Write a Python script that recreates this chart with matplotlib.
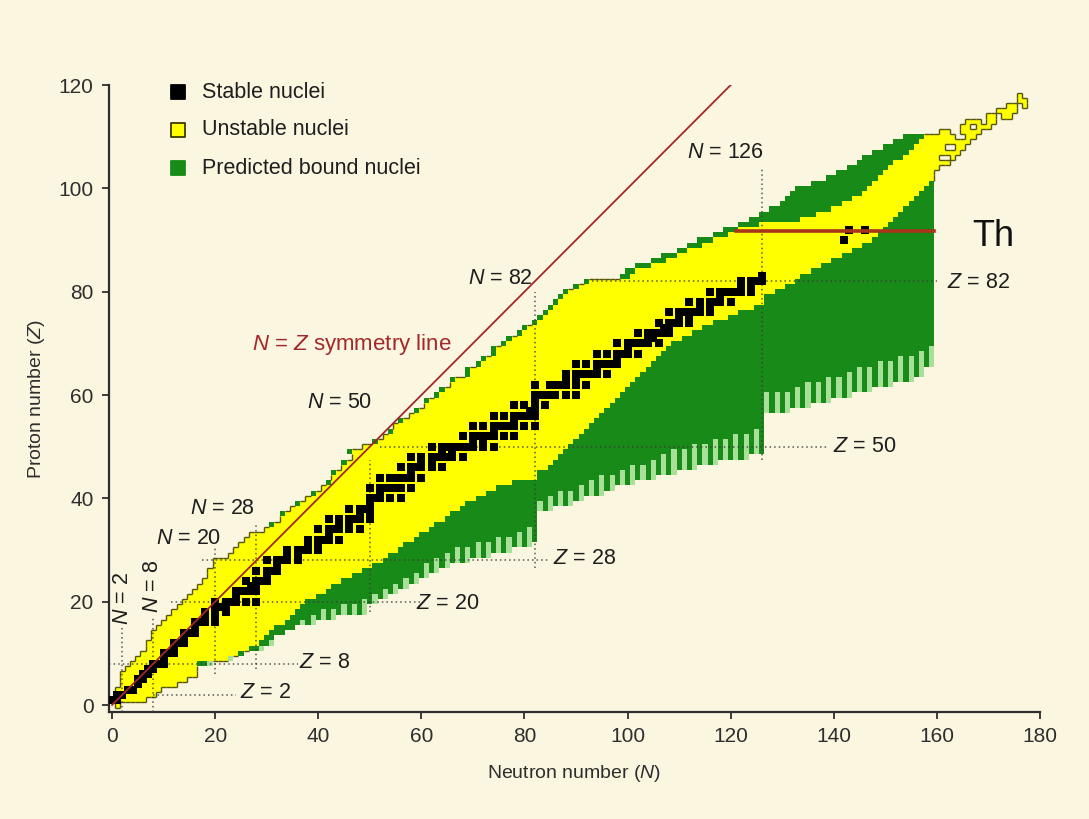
import numpy as np
import matplotlib.pyplot as plt
from matplotlib.colors import ListedColormap
from matplotlib.collections import LineCollection

plt.rcParams['font.family'] = ['Liberation Sans', 'DejaVu Sans']
plt.rcParams['mathtext.fontset'] = 'custom'
plt.rcParams['mathtext.rm'] = 'Liberation Sans'
plt.rcParams['mathtext.it'] = 'Liberation Sans:italic'

BG = '#fbf6e0'

# ---- data ----
z_rows = list(range(0, 119))

# known (unstable) nuclei: lowest / highest N for each Z
known_n_lo = [1, 0, 1, 1, 2, 2, 2, 3, 4, 5,
              6, 7, 7, 8, 8, 9, 10, 11, 12, 13,
              14, 15, 16, 17, 18, 19, 19, 20, 20, 23,
              24, 25, 26, 27, 30, 32, 33, 34, 35, 37,
              38, 40, 41, 43, 43, 44, 45, 46, 47, 47,
              49, 52, 53, 55, 55, 57, 58, 60, 61, 62,
              64, 65, 66, 67, 70, 70, 72, 73, 75, 75,
              77, 78, 80, 81, 83, 84, 85, 86, 87, 88,
              89, 91, 93, 101, 102, 105, 108, 110, 112, 115,
              117, 120, 122, 126, 134, 137, 140, 142, 144, 146,
              147, 148, 149, 150, 151, 152, 154, 155, 156, 157,
              158, 161, 165, 166, 170, 172, 174, 176, 176]
known_n_hi = [1, 6, 8, 9, 12, 14, 16, 16, 16, 22,
              24, 26, 28, 29, 30, 31, 33, 34, 35, 36,
              37, 39, 41, 42, 44, 46, 48, 50, 52, 53,
              55, 56, 58, 59, 61, 62, 64, 65, 67, 68,
              70, 72, 74, 77, 82, 82, 84, 85, 86, 87,
              88, 89, 90, 91, 92, 93, 94, 95, 96, 97,
              98, 99, 100, 101, 102, 103, 104, 105, 106, 107,
              108, 110, 112, 114, 116, 119, 121, 124, 126, 126,
              128, 130, 132, 133, 135, 137, 139, 141, 143, 145,
              147, 148, 149, 150, 151, 152, 153, 154, 155, 156,
              157, 158, 159, 159, 161, 162, 163, 164, 165, 166,
              167, 168, 170, 171, 174, 175, 177, 177, 176]
# gaps in the superheavy corner (Z, N) that are not observed
superheavy_gaps = [(104, 161), (106, 161), (106, 162), (108, 163), (108, 162),
                   (110, 164), (110, 165), (111, 163), (111, 164), (112, 167),
                   (113, 169), (114, 172), (116, 176)]
# predicted bound nuclei: lowest N for each Z (proton-rich side)
bound_n_lo = [1, 0, 1, 1, 2, 2, 2, 3, 4, 5,
              6, 7, 7, 8, 8, 9, 10, 11, 12, 13,
              14, 15, 16, 17, 18, 19, 19, 20, 20, 23,
              24, 25, 26, 27, 30, 31, 33, 33, 35, 36,
              38, 39, 41, 42, 43, 43, 45, 45, 47, 46,
              49, 51, 53, 54, 55, 56, 58, 59, 61, 61,
              63, 64, 66, 66, 69, 69, 71, 72, 74, 74,
              76, 77, 79, 80, 82, 83, 84, 85, 86, 87,
              88, 90, 92, 99, 100, 102, 105, 107, 110, 112,
              114, 117, 119, 122, 124, 126, 128, 130, 131, 132,
              133, 136, 139, 141, 143, 145, 146, 148, 150, 152,
              154, 161, 165, 166, 170, 172, 174, 176, 176]
BOUND_N_MAX = 159

# neutron drip side: comb of even-N teeth and odd-N gaps
tooth_n = list(range(16, 160, 2))
tooth_z = [8, 8, 9, 9, 10, 11, 11, 12, 14, 15,
           16, 16, 17, 17, 18, 18, 18, 20, 21, 22,
           23, 24, 25, 26, 27, 28, 28, 29, 29, 30,
           30, 31, 31, 32, 38, 39, 39, 40, 41, 41,
           42, 43, 43, 44, 44, 45, 45, 46, 46, 47,
           47, 48, 48, 48, 49, 49, 57, 57, 58, 58,
           59, 59, 60, 60, 61, 61, 62, 62, 63, 63,
           64, 66]
gap_z = [8, 9, 9, 10, 10, 11, 12, 13, 14, 15,
         17, 18, 19, 19, 20, 20, 21, 22, 23, 24,
         25, 26, 28, 29, 30, 31, 31, 32, 32, 33,
         33, 34, 35, 40, 41, 42, 42, 43, 44, 45,
         45, 46, 47, 47, 48, 49, 50, 50, 51, 51,
         52, 52, 53, 53, 54, 61, 61, 61, 62, 63,
         63, 64, 64, 65, 66, 66, 67, 67, 68, 68,
         69, 70]
gap_pale_z = [8, 8, 9, 9, 10, 11, 11, 12, 14, 15,
              16, 16, 17, 17, 18, 18, 18, 20, 21, 22,
              23, 24, 25, 26, 27, 28, 28, 29, 29, 30,
              30, 31, 31, 38, 38, 39, 39, 40, 41, 41,
              42, 43, 43, 44, 44, 45, 45, 46, 46, 47,
              47, 48, 48, 48, 49, 57, 57, 57, 58, 58,
              59, 59, 60, 60, 61, 61, 62, 62, 63, 63,
              64, 66]

# stable nuclei: N values for each Z
stable_z = list(range(1, 84)) + [90, 92]
stable_n = [
    [0, 1], [1, 2], [3, 4], [5], [5, 6], [6, 7], [7, 8], [8, 9, 10], [10], [10, 11, 12],
    [12], [12, 13, 14], [14], [14, 15, 16], [16], [16, 17, 18, 20], [18, 20], [18, 20, 22],
    [20, 21, 22], [20, 22, 23, 24, 26, 28],
    [24], [24, 25, 26, 27, 28], [27, 28], [26, 28, 29, 30], [30], [28, 30, 31, 32], [32],
    [30, 32, 33, 34, 36], [34, 36], [34, 36, 37, 38, 40],
    [38, 40], [38, 40, 41, 42, 44], [42], [40, 42, 43, 44, 46, 48], [44, 46],
    [42, 44, 46, 47, 48, 50], [48, 50], [46, 48, 49, 50], [50], [50, 51, 52, 54, 56],
    [52], [50, 52, 53, 54, 55, 56, 58], [], [52, 54, 55, 56, 57, 58, 60], [58],
    [56, 58, 59, 60, 62, 64], [60, 62], [58, 60, 62, 63, 64, 65, 66, 68], [64, 66],
    [62, 64, 65, 66, 67, 68, 69, 70, 72, 74],
    [70, 72], [68, 70, 71, 72, 73, 74, 76, 78], [74], [70, 72, 74, 75, 76, 77, 78, 80, 82],
    [78], [74, 76, 78, 79, 80, 81, 82], [81, 82], [78, 80, 82, 84], [82],
    [82, 83, 84, 85, 86, 88, 90],
    [], [82, 85, 86, 87, 88, 90, 92], [88, 90], [88, 90, 91, 92, 93, 94, 96], [94],
    [90, 92, 94, 95, 96, 97, 98], [98], [94, 96, 98, 99, 100, 102], [100],
    [98, 100, 101, 102, 103, 104, 106],
    [104, 105], [102, 104, 105, 106, 107, 108], [107, 108], [106, 108, 109, 110, 112],
    [110, 112], [108, 110, 111, 112, 113, 114, 116], [114, 116],
    [112, 114, 116, 117, 118, 120], [118], [116, 118, 119, 120, 121, 122, 124],
    [122, 124], [122, 124, 125, 126], [126],
    [142], [143, 146],
]

# magic-number guide lines
magic_n = [2, 8, 20, 28, 50, 82, 126]
magic_n_zrange = [(-1.4, 15), (-1.4, 17), (6, 30.5), (7, 35), (18, 47.5), (26.5, 80), (47.5, 104)]
magic_z = [2, 8, 20, 28, 50, 82]
magic_z_nrange = [(8, 24), (-0.6, 36), (11.5, 60), (17.5, 85), (52, 139), (93, 160)]

# ---- build the cell map ----
nz, nn = 121, 181
state = np.zeros((nz, nn), dtype=int)
for z in z_rows:
    state[z, known_n_lo[z]:known_n_hi[z] + 1] = 1
for z, n in superheavy_gaps:
    state[z, n] = 0

floor_dark = np.full(nn, 999)
floor_pale = np.full(nn, 999)
for n, tz, gz, pz in zip(tooth_n, tooth_z, gap_z, gap_pale_z):
    floor_dark[n] = tz
    floor_pale[n] = tz
    floor_dark[n + 1] = gz
    floor_pale[n + 1] = pz

for z in z_rows:
    for n in range(bound_n_lo[z], BOUND_N_MAX + 1):
        if state[z, n] != 0:
            continue
        if z >= floor_dark[n]:
            state[z, n] = 2
        elif z >= floor_pale[n]:
            state[z, n] = 3

fig = plt.figure(figsize=(10.89, 8.19), dpi=100, facecolor=BG)
ax = fig.add_axes([109 / 1089, 1 - 712 / 819, (1040 - 109) / 1089, (712 - 85) / 819])
ax.set_facecolor(BG)

cmap = ListedColormap([BG, '#ffff00', '#178a17', '#a8e09a'])
ax.pcolormesh(np.arange(nn + 1) - 0.5, np.arange(nz + 1) - 0.5,
              np.ma.masked_equal(state, 0), cmap=cmap, vmin=-0.5, vmax=3.5,
              shading='flat', antialiased=False, zorder=1)

# outline of known nuclei where they meet empty space
known = state == 1
empty = state == 0
segs = []
for z in range(nz):
    for n in range(nn):
        if not known[z, n]:
            continue
        if z + 1 >= nz or empty[z + 1, n]:
            segs.append([(n - 0.5, z + 0.5), (n + 0.5, z + 0.5)])
        if z == 0 or empty[z - 1, n]:
            segs.append([(n - 0.5, z - 0.5), (n + 0.5, z - 0.5)])
        if n + 1 >= nn or empty[z, n + 1]:
            segs.append([(n + 0.5, z - 0.5), (n + 0.5, z + 0.5)])
        if n == 0 or empty[z, n - 1]:
            segs.append([(n - 0.5, z - 0.5), (n - 0.5, z + 0.5)])
ax.add_collection(LineCollection(segs, colors='#55540f', linewidths=1.0, zorder=2))

# magic number dotted lines
dot = dict(color='#3c3c3c', lw=1.1, ls=(0, (1, 2)), alpha=0.85, zorder=3)
for n, (z0, z1) in zip(magic_n, magic_n_zrange):
    ax.plot([n, n], [z0, z1], **dot)
for z, (n0, n1) in zip(magic_z, magic_z_nrange):
    ax.plot([n0, n1], [z, z], **dot)

# stable nuclei, drawn a little larger than one cell like the original
sz, sn = [], []
for z, ns in zip(stable_z, stable_n):
    for n in ns:
        sz.append(z)
        sn.append(n)
ax.scatter(sn, sz, marker='s', s=26, c='#000000', linewidths=0, zorder=3.5)

# N = Z line and Th line
ax.plot([0, 120], [0, 120], color='#a3272b', lw=1.3, zorder=4)
ax.plot([121, 159.5], [91.8, 91.8], color='#a8341a', lw=2.6, zorder=4)

fs = 15.5
lab = dict(fontsize=fs, color='#1e1e1e', ha='center', va='center', zorder=6)
ax.text(2.1, 20.7, '$N$ = 2', rotation=90, **lab)
ax.text(7.8, 23.0, '$N$ = 8', rotation=90, **lab)
ax.text(14.8, 32.3, '$N$ = 20', **lab)
ax.text(21.4, 38.0, '$N$ = 28', **lab)
ax.text(44.2, 58.6, '$N$ = 50', **lab)
ax.text(75.3, 82.6, '$N$ = 82', **lab)
ax.text(118.9, 107.0, '$N$ = 126', **lab)
ax.text(29.7, 2.5, '$Z$ = 2', **lab)
ax.text(41.3, 8.3, '$Z$ = 8', **lab)
ax.text(65.0, 19.7, '$Z$ = 20', **lab)
ax.text(91.7, 28.4, '$Z$ = 28', **lab)
ax.text(146.0, 50.1, '$Z$ = 50', **lab)
ax.text(168.0, 81.7, '$Z$ = 82', **lab)
ax.text(170.9, 90.6, 'Th', fontsize=26, color='#111111', ha='center', va='center')
ax.text(46.5, 69.7, '$N$ = $Z$ symmetry line', fontsize=16, color='#a3272b',
        ha='center', va='center')

# legend
leg_z = [118.6, 111.3, 103.9]
leg_face = ['#000000', '#ffff00', '#178a17']
leg_edge = ['#000000', '#3c3a00', '#178a17']
leg_text = ['Stable nuclei', 'Unstable nuclei', 'Predicted bound nuclei']
for z, fc, ec, t in zip(leg_z, leg_face, leg_edge, leg_text):
    ax.scatter([12.8], [z], marker='s', s=110, c=fc, edgecolors=ec, linewidths=1.3,
               zorder=6, clip_on=False)
    ax.text(17.4, z, t, fontsize=15.5, color='#1e1e1e', ha='left', va='center')

ax.set_xlim(-0.6, 180)
ax.set_ylim(-1.35, 120)
ax.set_xticks(range(0, 181, 20))
ax.set_yticks(range(0, 121, 20))
for s in ['top', 'right']:
    ax.spines[s].set_visible(False)
for s in ['left', 'bottom']:
    ax.spines[s].set_color('#2e2e2e')
    ax.spines[s].set_linewidth(1.6)
ax.tick_params(axis='both', labelsize=15, colors='#2e2e2e', length=5, width=1.3, pad=6)
ax.set_xlabel('Neutron number ($N$)', fontsize=14, color='#2e2e2e', labelpad=12)
ax.set_ylabel('Proton number ($Z$)', fontsize=14, color='#2e2e2e', labelpad=8)

fig.savefig('out.png', dpi=100, facecolor=BG)
